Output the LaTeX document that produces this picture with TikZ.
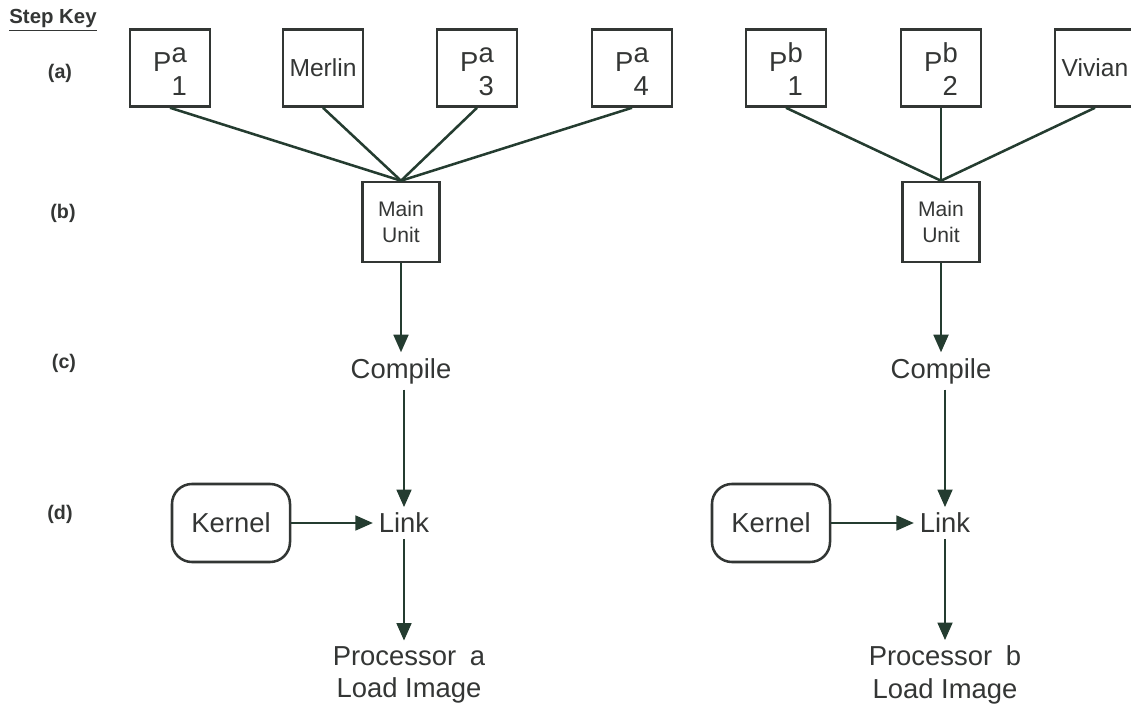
\documentclass[tikz,border=0pt]{standalone}
\usepackage{fontspec}
\setmainfont{Liberation Sans}
\usetikzlibrary{arrows.meta}

% P with a raised letter and a lowered number
\newcommand{\pbox}[2]{\rule{0pt}{22.4pt}P\raisebox{6.4pt}{\rlap{#1}}\raisebox{-17.3pt}{#2}}

\begin{document}
\begin{tikzpicture}[x=0.025cm,y=-0.025cm,
    unitbox/.style={draw=boxgray, line width=1.8pt, minimum width=2cm, minimum height=1.925cm,
        inner sep=0pt, text=textgray, font=\fontsize{19.5}{23}\selectfont},
    namefont/.style={font=\fontsize{17.5}{21}\selectfont},
    mainbox/.style={unitbox, minimum width=1.925cm, minimum height=2cm, align=center,
        font=\fontsize{15}{19}\selectfont},
    kernbox/.style={draw=boxgray, line width=1.8pt, rounded corners=0.5cm, minimum width=2.95cm,
        minimum height=1.95cm, text=textgray, font=\fontsize{19.5}{23}\selectfont},
    steptext/.style={text=textgray, inner sep=4pt, align=center, font=\fontsize{19.5}{23}\selectfont},
    keytext/.style={text=textgray, font=\fontsize{14}{17}\selectfont\bfseries},
    wire/.style={draw=linegreen, line width=1.8pt},
    flow/.style={wire, -{Triangle[length=12.5pt,width=10.5pt]}}]

    % Define colors
    \definecolor{boxgray}{RGB}{50,54,52}
    \definecolor{linegreen}{RGB}{36,60,48}
    \definecolor{textgray}{RGB}{52,54,53}

    \useasboundingbox (0,0) rectangle (1131,709);

    % Step key
    \node[keytext, font=\fontsize{14.5}{18}\selectfont\bfseries] (stepkey) at (53,20) {\underline{Step Key}};
    \node[keytext] (keya) at (60,73) {(a)};
    \node[keytext] (keyb) at (63,213) {(b)};
    \node[keytext] (keyc) at (64,363) {(c)};
    \node[keytext] (keyd) at (60,514) {(d)};

    %-------------
    % Processor a

    \node[unitbox] (p1a) at (170,68) {\pbox{a}{1}};
    \node[unitbox, namefont] (merlin) at (323,68) {Merlin};
    \node[unitbox] (p3a) at (477,68) {\pbox{a}{3}};
    \node[unitbox] (p4a) at (632,68) {\pbox{a}{4}};

    \node[mainbox] (maina) at (401,222) {Main\\Unit};
    \foreach \n in {p1a,merlin,p3a,p4a}
        \draw[wire] (\n.south) -- (maina.north);

    \node[steptext] (compa) at (401,371) {Compile};
    \node[steptext] (linka) at (404,523) {Link};
    \node[kernbox] (kerna) at (231,523) {Kernel};
    \node[steptext] (proca) at (409,675) {Processor\hspace{0.5em}a\\Load Image};

    \draw[flow] (maina) -- (compa);
    \draw[flow] (compa.south -| linka) -- (linka);
    \draw[flow] (kerna) -- (linka);
    \draw[flow] (linka.south) -- (linka.south |- proca.north);

    %-------------
    % Processor b

    \node[unitbox] (p1b) at (786,68) {\pbox{b}{1}};
    \node[unitbox] (p2b) at (941,68) {\pbox{b}{2}};
    \node[unitbox, namefont] (vivian) at (1095,68) {Vivian};

    \node[mainbox] (mainb) at (941,222) {Main\\Unit};
    \foreach \n in {p1b,p2b,vivian}
        \draw[wire] (\n.south) -- (mainb.north);

    \node[steptext] (compb) at (941,371) {Compile};
    \node[steptext] (linkb) at (945,523) {Link};
    \node[kernbox] (kernb) at (771,523) {Kernel};
    \node[steptext] (procb) at (945,675) {Processor\hspace{0.5em}b\\Load Image};

    \draw[flow] (mainb) -- (compb);
    \draw[flow] (compb.south -| linkb) -- (linkb);
    \draw[flow] (kernb) -- (linkb);
    \draw[flow] (linkb.south) -- (linkb.south |- procb.north);

\end{tikzpicture}
\end{document}
